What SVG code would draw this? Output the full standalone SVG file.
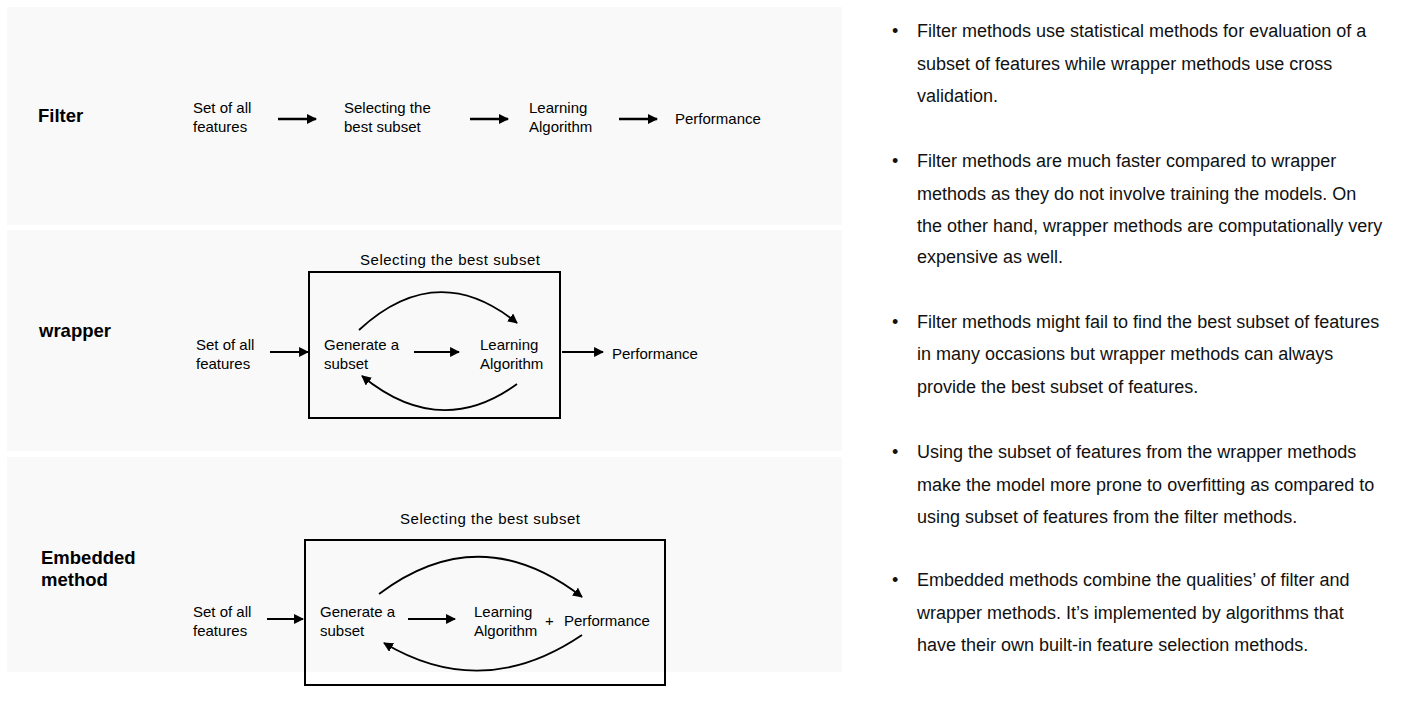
<svg xmlns="http://www.w3.org/2000/svg" width="1405" height="708" viewBox="0 0 1405 708">
<defs>
<style>
.panel{fill:#f9f9f9}
.t{font-family:"Liberation Sans",Arial,sans-serif;font-size:15px;fill:#000}
.h{font-family:"Liberation Sans",Arial,sans-serif;font-size:18.5px;font-weight:bold;fill:#000}
.b{font-family:"Liberation Sans",Arial,sans-serif;font-size:18px;fill:#111}
.box{fill:none;stroke:#000;stroke-width:2}
.ln{fill:none;stroke:#000;stroke-width:1.8}
.lnb{fill:none;stroke:#000;stroke-width:2.4}
</style>
<marker id="ah" viewBox="0 0 10 10" refX="9" refY="5" markerWidth="5.5" markerHeight="5.5" orient="auto" markerUnits="strokeWidth">
<path d="M0,0 L10,5 L0,10 z" fill="#000"/>
</marker>
<marker id="ahb" viewBox="0 0 10 10" refX="9" refY="5" markerWidth="4.2" markerHeight="4.2" orient="auto" markerUnits="strokeWidth">
<path d="M0,0 L10,5 L0,10 z" fill="#000"/>
</marker>
</defs>
<rect width="1405" height="708" fill="#fff"/>
<rect class="panel" x="7" y="7" width="835" height="218"/>
<rect class="panel" x="7" y="230" width="835" height="221"/>
<rect class="panel" x="7" y="457" width="835" height="215"/>

<g id="filter">
<text class="h" x="38" y="122">Filter</text>
<g id="f-set"><text class="t" x="193" y="113">Set of all</text><text class="t" x="193" y="132">features</text></g>
<g id="f-select"><text class="t" x="344" y="113">Selecting the</text><text class="t" x="344" y="132">best subset</text></g>
<g id="f-learn"><text class="t" x="529" y="113">Learning</text><text class="t" x="529" y="132">Algorithm</text></g>
<g id="f-perf"><text class="t" x="675" y="124">Performance</text></g>
</g>

<g id="wrapper">
<text class="h" x="39" y="337">wrapper</text>
<g id="w-box"><rect class="box" x="309" y="272" width="251" height="146"/><text class="t" x="360" y="265" textLength="180">Selecting the best subset</text></g>
<g id="w-set"><text class="t" x="196" y="350">Set of all</text><text class="t" x="196" y="369">features</text></g>
<g id="w-gen"><text class="t" x="324" y="350">Generate a</text><text class="t" x="324" y="369">subset</text></g>
<g id="w-learn"><text class="t" x="480" y="350">Learning</text><text class="t" x="480" y="369">Algorithm</text></g>
<g id="w-perf"><text class="t" x="612" y="359">Performance</text></g>
</g>

<g id="embedded">
<text class="h" x="41" y="564">Embedded</text>
<text class="h" x="41" y="586">method</text>
<g id="e-box"><rect class="box" x="305" y="540" width="360" height="145"/><text class="t" x="400" y="524" textLength="180">Selecting the best subset</text></g>
<g id="e-set"><text class="t" x="193" y="617">Set of all</text><text class="t" x="193" y="636">features</text></g>
<g id="e-gen"><text class="t" x="320" y="617">Generate a</text><text class="t" x="320" y="636">subset</text></g>
<g id="e-learn"><text class="t" x="474" y="617">Learning</text><text class="t" x="474" y="636">Algorithm</text></g>
<g id="e-perf"><text class="t" x="545" y="626">+</text><text class="t" x="564" y="626">Performance</text></g>
</g>

<g id="connectors">
<line class="lnb" x1="278" y1="119" x2="316" y2="119" marker-end="url(#ahb)"/>
<line class="lnb" x1="470" y1="119" x2="508" y2="119" marker-end="url(#ahb)"/>
<line class="lnb" x1="619" y1="119" x2="657" y2="119" marker-end="url(#ahb)"/>

<line class="ln" x1="270" y1="352" x2="308" y2="352" marker-end="url(#ah)"/>
<line class="ln" x1="414" y1="352" x2="459" y2="352" marker-end="url(#ah)"/>
<line class="ln" x1="562" y1="352" x2="603" y2="352" marker-end="url(#ah)"/>
<path class="ln" d="M359,330 Q437,258 517,323" marker-end="url(#ah)"/>
<path class="ln" d="M517,384 Q440,440 362,376" marker-end="url(#ah)"/>

<line class="ln" x1="267" y1="619" x2="303" y2="619" marker-end="url(#ah)"/>
<line class="ln" x1="408" y1="619" x2="455" y2="619" marker-end="url(#ah)"/>
<path class="ln" d="M379,594 Q480,518 582,597" marker-end="url(#ah)"/>
<path class="ln" d="M582,635 Q483,702 384,643" marker-end="url(#ah)"/>
</g>

<g id="notes">
<text class="b" x="892" y="37">•</text>
<text class="b" x="917" y="37">Filter methods use statistical methods for evaluation of a</text>
<text class="b" x="917" y="70">subset of features while wrapper methods use cross</text>
<text class="b" x="917" y="102">validation.</text>
<text class="b" x="892" y="167">•</text>
<text class="b" x="917" y="167">Filter methods are much faster compared to wrapper</text>
<text class="b" x="917" y="200">methods as they do not involve training the models. On</text>
<text class="b" x="917" y="232">the other hand, wrapper methods are computationally very</text>
<text class="b" x="917" y="263">expensive as well.</text>
<text class="b" x="892" y="328">•</text>
<text class="b" x="917" y="328">Filter methods might fail to find the best subset of features</text>
<text class="b" x="917" y="360">in many occasions but wrapper methods can always</text>
<text class="b" x="917" y="393">provide the best subset of features.</text>
<text class="b" x="892" y="458">•</text>
<text class="b" x="917" y="458">Using the subset of features from the wrapper methods</text>
<text class="b" x="917" y="491">make the model more prone to overfitting as compared to</text>
<text class="b" x="917" y="523">using subset of features from the filter methods.</text>
<text class="b" x="892" y="586">•</text>
<text class="b" x="917" y="586">Embedded methods combine the qualities’ of filter and</text>
<text class="b" x="917" y="619">wrapper methods. It’s implemented by algorithms that</text>
<text class="b" x="917" y="651">have their own built-in feature selection methods.</text>
</g>
</svg>
